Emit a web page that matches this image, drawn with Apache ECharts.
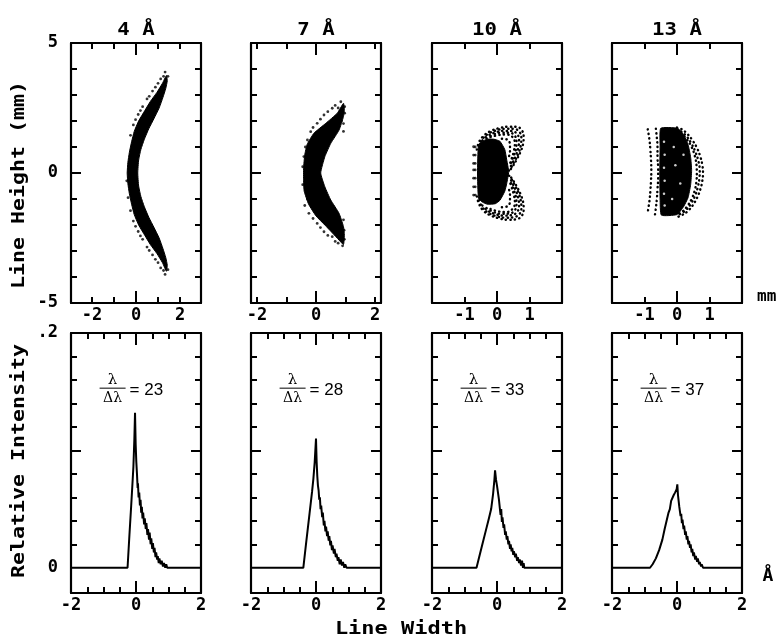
<!DOCTYPE html>
<html><head><meta charset="utf-8">
<script src="https://cdn.jsdelivr.net/npm/echarts@6/dist/echarts.min.js"></script>
<style>html,body{margin:0;padding:0;background:#fff}#c{width:778px;height:638px}</style>
</head><body><div id="c"></div><script>
// ---------------- data ----------------
const panelWavelengths = ['4', '7', '10', '13'];
const resolvingPowers = ['23', '28', '33', '37'];

// 4 Å spot diagram: dense core outline + loose dots
const spotCore4 = [[1.38,3.75],[1.2,3.45],[0.95,3.1],[0.65,2.75],[0.4,2.4],[0.12,2.0],[-0.08,1.6],[-0.2,1.2],[-0.3,0.8],[-0.37,0.4],[-0.4,0.0],[-0.37,-0.4],[-0.3,-0.8],[-0.2,-1.2],[-0.08,-1.6],[0.12,-2.0],[0.4,-2.4],[0.65,-2.75],[0.95,-3.1],[1.2,-3.45],[1.38,-3.78],
  [1.42,-3.55],[1.35,-3.25],[1.22,-2.9],[1.05,-2.5],[0.82,-2.1],[0.58,-1.7],[0.38,-1.3],[0.22,-0.9],[0.12,-0.5],[0.08,0.0],[0.12,0.5],[0.22,0.9],[0.38,1.3],[0.58,1.7],[0.82,2.1],[1.05,2.5],[1.22,2.9],[1.35,3.25],[1.42,3.55]];
const spotDots4 = [[0.3,2.55],[0.5,2.85],[0.75,3.15],[1.0,3.45],[1.25,3.72],[0.1,2.25],[-0.12,1.85],[-0.25,1.45],[1.32,3.88],[1.45,3.72],[0.6,2.95],[0.88,3.3],[1.12,3.62],[0.2,2.4],[-0.02,2.05],
  [0.3,-2.55],[0.5,-2.85],[0.75,-3.15],[1.0,-3.45],[1.25,-3.75],[0.1,-2.25],[-0.12,-1.85],[-0.25,-1.45],[1.32,-3.9],[1.45,-3.72],[0.6,-2.98],[0.88,-3.32],[1.12,-3.65],[0.2,-2.42],[-0.02,-2.05],[-0.36,-0.95],[-0.42,-0.3]];

// 7 Å spot diagram
const spotCore7 = [[0.93,2.68],[0.72,2.3],[0.33,1.91],[-0.07,1.53],[-0.3,1.1],[-0.38,0.7],[-0.42,0.2],[-0.42,-0.3],[-0.4,-0.7],[-0.25,-1.2],[0.0,-1.65],[0.3,-2.0],[0.55,-2.3],[0.78,-2.58],[0.93,-2.75],
  [0.96,-2.4],[0.93,-2.06],[0.78,-1.55],[0.5,-1.04],[0.3,-0.53],[0.16,0.0],[0.3,0.63],[0.5,1.14],[0.78,1.65],[0.93,2.17],[0.96,2.45]];
const spotDots7 = [[-0.29,1.27],[-0.18,1.59],[0.04,1.91],[0.27,2.23],[0.55,2.49],[0.65,2.6],[0.84,2.74],[-0.41,0.63],[-0.45,0.24],[-0.36,1.0],[-0.1,1.75],[0.15,2.07],[0.4,2.36],[0.75,2.5],[0.93,1.6],[0.93,1.9],[0.97,2.3],[0.97,2.55],[0.86,2.0],[0.6,2.0],[0.2,1.7],
  [-0.29,-1.0],[-0.24,-1.55],[0.04,-1.94],[0.27,-2.26],[0.55,-2.45],[0.65,-2.63],[0.9,-2.8],[-0.45,-0.45],[-0.38,-1.25],[-0.1,-1.75],[0.15,-2.1],[0.4,-2.4],[0.75,-2.7],[0.93,-1.8],[0.95,-2.2],[0.96,-2.55],[0.86,-2.1],[0.6,-2.05],[0.2,-1.75]];

// 10 Å spot diagram
const spotCore10 = [[-0.57,1.08],[-0.45,1.22],[-0.3,1.3],[-0.1,1.3],[0.09,1.22],[0.24,0.9],[0.3,0.5],[0.36,0.05],[0.3,-0.4],[0.24,-0.7],[0.09,-1.05],[-0.05,-1.18],[-0.3,-1.2],[-0.45,-1.12],[-0.57,-0.97],[-0.6,0.0]];
const spotDots10 = [[-0.72,1.01],[-0.72,0.69],[-0.72,0.37],[-0.72,0.12],[-0.72,-0.2],[-0.72,-0.53],[-0.72,-0.85],[-0.67,1.0],[-0.67,0.69],[-0.67,0.37],[-0.67,0.12],[-0.67,-0.2],[-0.67,-0.53],[-0.67,-0.85]];
const spotArcs10 = [
  [[-0.62,0.9],[-0.55,1.2],[-0.42,1.42],[-0.22,1.6],[0.05,1.72],[0.35,1.78],[0.6,1.78],[0.76,1.65],[0.82,1.4],[0.8,1.1],[0.72,0.8],[0.6,0.5],[0.48,0.25],[0.38,0.08]],
  [[-0.55,1.05],[-0.45,1.3],[-0.28,1.5],[-0.05,1.63],[0.25,1.7],[0.52,1.7],[0.69,1.58],[0.75,1.35],[0.73,1.05],[0.66,0.75],[0.55,0.47],[0.44,0.22],[0.37,0.1]],
  [[-0.45,1.25],[-0.3,1.42],[-0.08,1.55],[0.2,1.62],[0.45,1.62],[0.62,1.5],[0.68,1.25],[0.65,0.95],[0.57,0.65],[0.47,0.38],[0.38,0.15]],
  [[-0.32,1.33],[-0.12,1.47],[0.12,1.55],[0.38,1.55],[0.54,1.45],[0.6,1.2],[0.58,0.9],[0.5,0.6],[0.42,0.35]],
  [[-0.2,1.38],[0.05,1.46],[0.3,1.48],[0.48,1.38],[0.55,1.15],[0.52,0.85],[0.45,0.55],[0.38,0.3]],
  [[0.15,1.32],[0.32,1.28],[0.4,1.1],[0.4,0.85],[0.36,0.6]],
  [[-0.62,-0.9],[-0.55,-1.2],[-0.42,-1.45],[-0.22,-1.62],[0.05,-1.74],[0.35,-1.8],[0.6,-1.78],[0.76,-1.65],[0.82,-1.4],[0.8,-1.1],[0.72,-0.8],[0.6,-0.5],[0.48,-0.25],[0.38,-0.08]],
  [[-0.55,-1.05],[-0.45,-1.32],[-0.28,-1.52],[-0.05,-1.65],[0.25,-1.72],[0.52,-1.7],[0.69,-1.58],[0.75,-1.35],[0.73,-1.05],[0.66,-0.75],[0.55,-0.47],[0.44,-0.22],[0.37,-0.1]],
  [[-0.45,-1.25],[-0.3,-1.44],[-0.08,-1.57],[0.2,-1.64],[0.45,-1.62],[0.62,-1.5],[0.68,-1.25],[0.65,-0.95],[0.57,-0.65],[0.47,-0.38],[0.38,-0.15]],
  [[-0.32,-1.35],[-0.12,-1.49],[0.12,-1.57],[0.38,-1.56],[0.54,-1.45],[0.6,-1.2],[0.58,-0.9],[0.5,-0.6],[0.42,-0.35]],
  [[-0.2,-1.38],[0.05,-1.48],[0.3,-1.5],[0.48,-1.38],[0.55,-1.15],[0.52,-0.85],[0.45,-0.55],[0.38,-0.3]],
  [[0.15,-1.32],[0.32,-1.28],[0.4,-1.1],[0.4,-0.85],[0.36,-0.6]]
];

// 13 Å spot diagram
const spotCore13 = [[-0.5,1.72],[0.02,1.72],[0.2,1.48],[0.34,1.1],[0.42,0.6],[0.45,0.1],[0.42,-0.45],[0.34,-0.95],[0.2,-1.3],[0.0,-1.6],[-0.48,-1.62],[-0.52,-1.0],[-0.53,0.0],[-0.52,1.0]];
const spotArcs13 = [
  [[0.0,1.75],[0.15,1.68],[0.32,1.5],[0.48,1.25],[0.62,0.95],[0.72,0.62],[0.78,0.3],[0.8,0.0],[0.78,-0.3],[0.72,-0.62],[0.62,-0.95],[0.48,-1.25],[0.32,-1.48],[0.15,-1.62],[0.0,-1.7]],
  [[0.0,1.66],[0.15,1.58],[0.3,1.4],[0.45,1.12],[0.57,0.8],[0.66,0.45],[0.7,0.1],[0.69,-0.2],[0.64,-0.55],[0.55,-0.9],[0.42,-1.2],[0.28,-1.42],[0.12,-1.56],[0.0,-1.63]],
  [[0.0,1.6],[0.15,1.5],[0.3,1.3],[0.45,1.0],[0.55,0.65],[0.6,0.3],[0.61,0.0],[0.6,-0.3],[0.55,-0.65],[0.45,-1.0],[0.3,-1.3],[0.15,-1.5],[0.0,-1.58]],
  [[-0.9,1.68],[-0.85,1.3],[-0.82,0.9],[-0.8,0.5],[-0.79,0.1],[-0.8,-0.3],[-0.82,-0.7],[-0.85,-1.1],[-0.9,-1.5]],
  [[-0.65,1.7],[-0.62,1.35],[-0.6,1.0],[-0.6,0.6],[-0.58,0.2],[-0.58,-0.2],[-0.6,-0.6],[-0.62,-1.0],[-0.65,-1.35],[-0.68,-1.62]]
];
const spotHoles13 = [[-0.4,1.2],[-0.38,0.7],[-0.4,0.2],[-0.38,-0.3],[-0.4,-0.8],[-0.38,-1.25],[-0.1,1.0],[-0.05,0.3],[0.1,-0.4],[-0.15,-1.0],[0.2,0.7]];

// line profiles (line width vs relative intensity)
const profile4 = [[-2,0],[-0.26,0],[-0.2,0.029],[-0.15,0.052],[-0.1,0.076],[-0.08,0.086],[-0.05,0.11],[-0.03,0.132],[-0.01,0.105],[0.01,0.09],[0.03,0.08],[0.05,0.068],[0.06,0.072],[0.08,0.06],[0.1,0.064],[0.12,0.053],[0.14,0.058],[0.16,0.047],[0.18,0.052],[0.2,0.042],[0.22,0.047],[0.25,0.037],[0.27,0.042],[0.3,0.033],[0.32,0.038],[0.35,0.028],[0.37,0.033],[0.4,0.024],[0.42,0.03],[0.45,0.02],[0.47,0.025],[0.5,0.016],[0.52,0.021],[0.55,0.013],[0.57,0.017],[0.6,0.009],[0.62,0.013],[0.65,0.007],[0.67,0.01],[0.7,0.004],[0.72,0.008],[0.76,0.003],[0.79,0.006],[0.83,0.001],[0.86,0.004],[0.9,0.0],[0.93,0.003],[0.96,0],[2,0]];
const profile7 = [[-2,0],[-0.39,0],[-0.3,0.022],[-0.2,0.046],[-0.12,0.065],[-0.08,0.076],[-0.04,0.09],[0.0,0.11],[0.02,0.09],[0.04,0.078],[0.06,0.07],[0.08,0.066],[0.1,0.058],[0.12,0.06],[0.14,0.05],[0.16,0.053],[0.19,0.043],[0.21,0.047],[0.24,0.036],[0.26,0.04],[0.29,0.031],[0.31,0.035],[0.34,0.027],[0.36,0.031],[0.39,0.023],[0.41,0.027],[0.44,0.019],[0.46,0.023],[0.49,0.015],[0.51,0.019],[0.55,0.012],[0.57,0.016],[0.61,0.009],[0.63,0.012],[0.67,0.006],[0.69,0.009],[0.73,0.003],[0.76,0.007],[0.8,0.002],[0.83,0.005],[0.87,0.0],[0.9,0.003],[0.94,0],[2,0]];
const profile10 = [[-2,0],[-0.63,0],[-0.55,0.009],[-0.45,0.02],[-0.35,0.031],[-0.25,0.042],[-0.18,0.05],[-0.12,0.063],[-0.08,0.075],[-0.06,0.083],[-0.03,0.075],[0.0,0.07],[0.03,0.064],[0.06,0.058],[0.09,0.05],[0.11,0.045],[0.13,0.05],[0.15,0.039],[0.17,0.043],[0.2,0.034],[0.22,0.037],[0.25,0.028],[0.27,0.031],[0.3,0.024],[0.32,0.027],[0.35,0.02],[0.37,0.023],[0.4,0.016],[0.42,0.02],[0.45,0.014],[0.47,0.017],[0.5,0.011],[0.52,0.014],[0.56,0.009],[0.58,0.012],[0.62,0.006],[0.64,0.009],[0.68,0.004],[0.7,0.007],[0.74,0.002],[0.77,0.006],[0.8,0.0],[0.82,0.004],[0.84,0],[2,0]];
const profile13 = [[-2,0],[-0.83,0],[-0.75,0.003],[-0.65,0.008],[-0.55,0.015],[-0.45,0.024],[-0.38,0.033],[-0.32,0.04],[-0.26,0.047],[-0.22,0.05],[-0.18,0.057],[-0.14,0.056],[-0.1,0.062],[-0.06,0.064],[-0.03,0.063],[-0.01,0.067],[0.01,0.071],[0.03,0.062],[0.05,0.057],[0.07,0.052],[0.09,0.048],[0.11,0.044],[0.13,0.046],[0.15,0.038],[0.17,0.041],[0.2,0.033],[0.22,0.036],[0.25,0.028],[0.27,0.031],[0.3,0.024],[0.32,0.027],[0.35,0.02],[0.37,0.023],[0.4,0.017],[0.42,0.02],[0.45,0.013],[0.47,0.016],[0.5,0.01],[0.52,0.013],[0.56,0.007],[0.58,0.01],[0.62,0.005],[0.64,0.008],[0.68,0.003],[0.7,0.005],[0.74,0.001],[0.76,0.003],[0.8,0],[2,0]];

// axes
const topXRanges = [[-2.95,2.95],[-2.2,2.2],[-2,2],[-2,2]];
const topXTicks = [[-2,-1,1,2],[-2,-1,1,2],[-1,1],[-1,1]];
const topXLabels = [[-2,0,2],[-2,0,2],[-1,0,1],[-1,0,1]];
const topYRange = [-5,5];
const topYTicks = [-4,-3,-2,-1,1,2,3,4];
const topYLabels = [-5,0,5];
const bottomXRange = [-2,2];
const bottomXTicks = [-1.5,-1,-0.5,0.5,1,1.5];
const bottomXLabels = [-2,0,2];
const bottomYRange = [-0.0215,0.2];
const bottomYTicks = [0.02,0.04,0.06,0.08,0.12,0.14,0.16,0.18];
const bottomYLongTicks = [0.1];
const bottomYLabels = [0,0.2];
// annotation anchor (data coords of fraction bar centre)
const fractionAnchor = [-0.72,0.153];

// ---------------- layout / style ----------------
const MONO = '"DejaVu Sans Mono", monospace';
const panelLefts = [71,251,432,612];
const panelW = 130;
const topTop = 43, topH = 260, botTop = 333, botH = 260;

const spotCores = [spotCore4, spotCore7, spotCore10, spotCore13];
const spotDots = [spotDots4, spotDots7, spotDots10, []];
const spotArcs = [[], [], spotArcs10, spotArcs13];
const spotHoles = [[], [], [], spotHoles13];
const profiles = [profile4, profile7, profile10, profile13];

const grids = [], xAxes = [], yAxes = [], series = [];
function mkAxis(gi, pos, range, ticks, len, labels, showLine, fmt, margin) {
  return {
    type: 'value', gridIndex: gi, position: pos, min: range[0], max: range[1],
    axisLine: {show: showLine, onZero: false, lineStyle: {color: '#000', width: 2.2}},
    axisTick: {show: ticks.length > 0, inside: true, length: len, customValues: ticks, lineStyle: {color: '#000', width: 2}},
    axisLabel: {show: !!labels, customValues: labels || [], fontFamily: MONO, fontWeight: 'bold', fontSize: 17, color: '#000', margin: margin, formatter: fmt},
    splitLine: {show: false}
  };
}
function addGrid(left, top, height, xr, xTicks, xLong, xLabels, yr, yTicks, yLong, yLabels, yFmt) {
  const gi = grids.length;
  grids.push({left: left, top: top, width: panelW, height: height, containLabel: false});
  const xi = xAxes.length, yi = yAxes.length;
  const xf = v => String(v);
  xAxes.push(mkAxis(gi, 'bottom', xr, xTicks, 6, xLabels, true, xf, 4));
  xAxes.push(mkAxis(gi, 'top', xr, xTicks, 6, null, true, xf, 4));
  xAxes.push(mkAxis(gi, 'bottom', xr, xLong, 12, null, false, xf, 4));
  xAxes.push(mkAxis(gi, 'top', xr, xLong, 12, null, false, xf, 4));
  yAxes.push(mkAxis(gi, 'left', yr, yTicks, 6, yLabels, true, yFmt, 13));
  yAxes.push(mkAxis(gi, 'right', yr, yTicks, 6, null, true, yFmt, 13));
  yAxes.push(mkAxis(gi, 'left', yr, yLong, 10, null, false, yFmt, 13));
  yAxes.push(mkAxis(gi, 'right', yr, yLong, 10, null, false, yFmt, 13));
  return {xi, yi};
}
function polyRender(core) {
  return function (params, api) {
    if (params.dataIndex !== 0) return null;
    return {type: 'polygon', shape: {points: core.map(p => api.coord(p)), smooth: 0.15}, style: {fill: '#000', stroke: '#000', lineWidth: 1}};
  };
}
const profileSeriesIdx = [];
for (let i = 0; i < 4; i++) {
  const a = addGrid(panelLefts[i], topTop, topH, topXRanges[i], topXTicks[i], [0], topXLabels[i],
    topYRange, topYTicks, [0], i === 0 ? topYLabels : null, v => String(v));
  series.push({type: 'custom', xAxisIndex: a.xi, yAxisIndex: a.yi, data: spotCores[i], encode: {x: 0, y: 1}, renderItem: polyRender(spotCores[i]), silent: true});
  if (spotDots[i].length) series.push({type: 'scatter', xAxisIndex: a.xi, yAxisIndex: a.yi, data: spotDots[i], symbolSize: 2.8, itemStyle: {color: '#000'}, silent: true});
  if (spotHoles[i].length) series.push({type: 'scatter', xAxisIndex: a.xi, yAxisIndex: a.yi, data: spotHoles[i], symbolSize: 2.5, itemStyle: {color: '#fff'}, silent: true, z: 3});
  spotArcs[i].forEach(arc => series.push({type: 'line', xAxisIndex: a.xi, yAxisIndex: a.yi, data: arc, smooth: 0.4, symbol: 'none', silent: true,
    lineStyle: {color: '#000', width: 2.4, type: [0.3, 4.2], cap: 'round'}}));
}
for (let i = 0; i < 4; i++) {
  const a = addGrid(panelLefts[i], botTop, botH, bottomXRange, bottomXTicks, [0], bottomXLabels,
    bottomYRange, bottomYTicks, bottomYLongTicks, i === 0 ? bottomYLabels : null, v => (v === 0 ? '0' : '.2'));
  profileSeriesIdx.push(series.length);
  series.push({type: 'line', xAxisIndex: a.xi, yAxisIndex: a.yi, data: profiles[i], symbol: 'none', silent: true,
    lineStyle: {color: '#000', width: 2}});
}

const chart = echarts.init(document.getElementById('c'));
chart.setOption({animation: false, backgroundColor: '#fff', grid: grids, xAxis: xAxes, yAxis: yAxes, series: series});

// ---------------- text graphics ----------------
const g = [];
const bigFont = 'bold 18px ' + MONO;
for (let i = 0; i < 4; i++) {
  g.push({type: 'text', x: panelLefts[i] + panelW / 2, y: 30, scaleX: 1.15,
    style: {text: panelWavelengths[i] + ' Å', font: bigFont, fill: '#000', align: 'center', verticalAlign: 'middle'}});
  const p = chart.convertToPixel({seriesIndex: profileSeriesIdx[i]}, fractionAnchor);
  g.push({type: 'text', x: p[0], y: p[1] - 8, style: {text: 'λ', font: '15px "DejaVu Serif"', fill: '#000', align: 'center', verticalAlign: 'middle'}});
  g.push({type: 'line', shape: {x1: p[0] - 13, y1: p[1], x2: p[0] + 13, y2: p[1]}, style: {stroke: '#000', lineWidth: 1}});
  g.push({type: 'text', x: p[0], y: p[1] + 10, style: {text: 'Δλ', font: '14px "DejaVu Serif"', fill: '#000', align: 'center', verticalAlign: 'middle'}});
  g.push({type: 'text', x: p[0] + 17, y: p[1] + 2, style: {text: '= ' + resolvingPowers[i], font: '17px "Liberation Sans"', fill: '#000', align: 'left', verticalAlign: 'middle'}});
}
g.push({type: 'text', x: 19, y: 185, rotation: Math.PI / 2, scaleX: 1.2,
  style: {text: 'Line Height (mm)', font: bigFont, fill: '#000', align: 'center', verticalAlign: 'middle'}});
g.push({type: 'text', x: 19, y: 461, rotation: Math.PI / 2, scaleX: 1.2,
  style: {text: 'Relative Intensity', font: bigFont, fill: '#000', align: 'center', verticalAlign: 'middle'}});
g.push({type: 'text', x: 401, y: 629, scaleX: 1.22,
  style: {text: 'Line Width', font: bigFont, fill: '#000', align: 'center', verticalAlign: 'middle'}});
g.push({type: 'text', x: 757, y: 297, style: {text: 'mm', font: 'bold 16px ' + MONO, fill: '#000', align: 'left', verticalAlign: 'middle'}});
g.push({type: 'text', x: 768, y: 576, style: {text: 'Å', font: 'bold 18px ' + MONO, fill: '#000', align: 'center', verticalAlign: 'middle'}});
chart.setOption({graphic: g});
</script></body></html>
